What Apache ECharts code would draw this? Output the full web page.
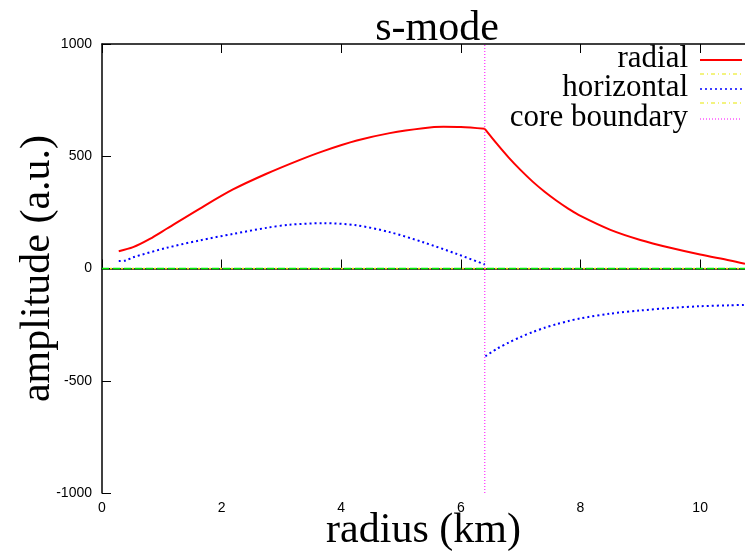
<!DOCTYPE html>
<html>
<head>
<meta charset="utf-8">
<script src="https://cdn.jsdelivr.net/npm/echarts@6/dist/echarts.min.js"></script>
<style>html,body{margin:0;padding:0;background:#fff;}#c{width:745px;height:551px;}</style>
</head>
<body>
<div id="c"></div>
<script>
// ---- data ----
const xTicks = [0, 2, 4, 6, 8, 10];
const yTicks = [-1000, -500, 0, 500, 1000];
const coreBoundary = 6.4;

const radialInnerR = [0.28, 0.52, 0.80, 1.08, 1.63, 2.19, 2.75, 3.31, 3.70, 4.26, 4.81, 5.37, 5.71, 6.00, 6.40];
const radialInnerV = [77, 95, 132, 177, 266, 352, 422, 484, 523, 570, 603, 625, 631, 630, 622];
const radialOuterR = [6.40, 6.60, 6.80, 7.00, 7.20, 7.40, 7.60, 7.80, 8.00, 8.50, 9.00, 9.50, 10.00, 10.50, 10.75];
const radialOuterV = [622, 556, 494, 438, 387, 342, 302, 266, 234, 172, 127, 92, 62, 36, 21];

const horizInnerR = [0.28, 0.40, 0.52, 1.08, 1.63, 2.19, 2.75, 3.14, 3.70, 4.26, 4.81, 5.37, 5.93, 6.40];
const horizInnerV = [33, 36, 50, 92, 125, 154, 181, 195, 202, 192, 162, 117, 65, 18];
const horizOuterR = [6.41, 6.60, 6.80, 7.00, 7.20, 7.40, 7.60, 7.80, 8.00, 8.50, 9.00, 9.50, 10.00, 10.50, 10.75];
const horizOuterV = [-391, -358, -330, -305, -283, -264, -248, -234, -222, -201, -187, -176, -168, -164, -162];

const zeroR = [0, 10.75];
const zeroV = [0, 0];

const legendNames = ['radial', '', 'horizontal', '', 'core boundary'];

const xMin = 0, xMax = 10.75, yMin = -1000, yMax = 1000;

function pairs(xs, ys) { return xs.map((x, i) => [x, ys[i]]); }

const chart = echarts.init(document.getElementById('c'), null, {renderer: 'canvas'});

const serif = '"Liberation Serif", "Times New Roman", serif';
const sans = '"Liberation Sans", Arial, sans-serif';

const RED = '#ff0000', BLUE = '#0000ff', GREEN = '#00ee00', YELLOW = '#e8e800', MAGENTA = '#ff00ff';

// legend drawn as graphic: text right edge, then sample line
const legendRows = [
  {name: legendNames[0], y: 60, color: RED, type: 'solid', width: 2},
  {name: legendNames[1], y: 74, color: YELLOW, type: [4, 3, 1, 3], width: 1.2},
  {name: legendNames[2], y: 89, color: BLUE, type: [2, 3], width: 1.5},
  {name: legendNames[3], y: 103, color: YELLOW, type: [4, 3, 1, 3], width: 1.2},
  {name: legendNames[4], y: 119, color: MAGENTA, type: [1, 2], width: 1}
];
const graphics = [];
legendRows.forEach(r => {
  if (r.name) {
    graphics.push({type: 'text', right: 57, top: r.y - 17, z: 100,
      style: {text: r.name, font: '31px ' + serif, fill: '#000', textAlign: 'right'}});
  }
  graphics.push({type: 'line', z: 100,
    shape: {x1: 700, y1: r.y, x2: 742, y2: r.y},
    style: {stroke: r.color, lineWidth: r.width, lineDash: r.type === 'solid' ? null : r.type}});
});

const option = {
  animation: false,
  backgroundColor: '#fff',
  title: {
    text: 's-mode', left: 432, top: 3, textAlign: 'center',
    textStyle: {fontFamily: serif, fontSize: 42, fontWeight: 'normal', color: '#000'}
  },
  grid: {left: 102, right: 0, top: 44, bottom: 58, containLabel: false, outerBoundsMode: 'none'},
  xAxis: [{
    type: 'value', min: xMin, max: xMax, interval: 2, position: 'bottom',
    name: 'radius (km)', nameLocation: 'middle', nameGap: 17, nameMoveOverlap: false,
    nameTextStyle: {fontFamily: serif, fontSize: 42, color: '#000', verticalAlign: 'top'},
    axisLine: {show: true, lineStyle: {color: '#000', width: 1.5}},
    axisTick: {show: true, inside: true, length: 9, lineStyle: {color: '#000', width: 1}},
    axisLabel: {fontFamily: sans, fontSize: 14, color: '#000', margin: 8,
      formatter: v => (xTicks.indexOf(v) >= 0 ? String(v) : '')},
    splitLine: {show: false}
  }, {
    type: 'value', min: xMin, max: xMax, interval: 2, position: 'top',
    axisLine: {show: true, lineStyle: {color: '#000', width: 1.5}},
    axisTick: {show: true, inside: true, length: 9, lineStyle: {color: '#000', width: 1}},
    axisLabel: {show: false}, splitLine: {show: false}
  }],
  yAxis: [{
    type: 'value', min: yMin, max: yMax, interval: 500,
    name: 'amplitude (a.u.)', nameLocation: 'middle', nameGap: 43, nameRotate: 90, nameMoveOverlap: false,
    nameTextStyle: {fontFamily: serif, fontSize: 42, color: '#000'},
    axisLine: {show: true, lineStyle: {color: '#000', width: 1.5}},
    axisTick: {show: true, inside: true, length: 9, lineStyle: {color: '#000', width: 1}},
    axisLabel: {fontFamily: sans, fontSize: 14, color: '#000', margin: 10,
      formatter: v => (yTicks.indexOf(v) >= 0 ? String(v) : '')},
    splitLine: {show: false}
  }],
  graphic: graphics,
  series: [
    {name: 'zero', type: 'line', data: pairs(zeroR, zeroV), symbol: 'none', silent: true,
      lineStyle: {color: GREEN, width: 1.5, type: [7, 4]}, z: 2},
    {name: 'zero2', type: 'line', data: pairs(zeroR, zeroV), symbol: 'none', silent: true,
      lineStyle: {color: YELLOW, width: 1.5, type: [2, 9], dashOffset: -8}, z: 3},
    {name: 'core boundary', type: 'line', data: pairs([coreBoundary, coreBoundary], [yMin, yMax]),
      symbol: 'none', lineStyle: {color: MAGENTA, width: 1, type: [1, 2]}, z: 4},
    {name: 'horizontal', type: 'line', data: pairs(horizInnerR, horizInnerV), symbol: 'none', smooth: 0.3,
      lineStyle: {color: BLUE, width: 2, type: [2, 3]}, z: 5},
    {name: 'horizontal-outer', type: 'line', data: pairs(horizOuterR, horizOuterV), symbol: 'none', smooth: 0.3,
      lineStyle: {color: BLUE, width: 2, type: [2, 3]}, z: 5},
    {name: 'radial', type: 'line', data: pairs(radialInnerR, radialInnerV), symbol: 'none', smooth: 0.3,
      lineStyle: {color: RED, width: 2}, z: 6},
    {name: 'radial-outer', type: 'line', data: pairs(radialOuterR, radialOuterV), symbol: 'none', smooth: 0.3,
      lineStyle: {color: RED, width: 2}, z: 6}
  ]
};
chart.setOption(option);
</script>
</body>
</html>
